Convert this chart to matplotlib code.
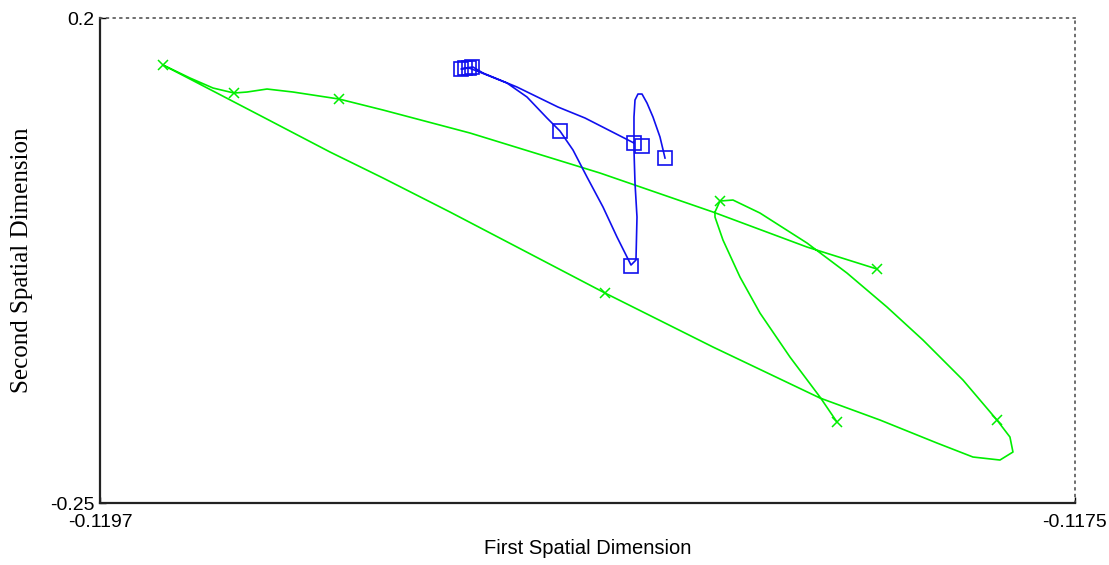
import matplotlib
matplotlib.use("Agg")
import matplotlib.pyplot as plt

# Trajectory of the first source (green): traced path and sampled positions
green_x = [-0.1179468, -0.1181047, -0.1183168, -0.1185718, -0.1188651, -0.1190614,
           -0.1191607, -0.1192645, -0.1193232, -0.1193683, -0.1193976, -0.1194450,
           -0.1194969, -0.1195578, -0.1194450, -0.1193322, -0.1191810, -0.1190614,
           -0.1189103, -0.1187591, -0.1185605, -0.1183168, -0.1180754, -0.1179400,
           -0.1178114, -0.1177302, -0.1176692, -0.1176399, -0.1176467, -0.1176760,
           -0.1177527, -0.1178430, -0.1179242, -0.1180145, -0.1181047, -0.1182108,
           -0.1182717, -0.1183010, -0.1183123, -0.1183123, -0.1182943, -0.1182559,
           -0.1182108, -0.1181431, -0.1180754, -0.1180370]
green_y = [-0.03289, -0.01248, 0.02000, 0.05618, 0.09330, 0.11464,
           0.12484, 0.13134, 0.13412, 0.13134, 0.13041, 0.13505,
           0.14433, 0.15639, 0.13227, 0.10814, 0.07567, 0.05155,
           0.02000, -0.01248, -0.05516, -0.10526, -0.15258, -0.17299,
           -0.19433, -0.20732, -0.21011, -0.20268, -0.18876, -0.17299,
           -0.13588, -0.09876, -0.06815, -0.03660, -0.00876, 0.01907,
           0.03113, 0.03021, 0.02000, 0.01536, -0.00598, -0.04031,
           -0.07371, -0.11454, -0.15165, -0.17485]
green_mx = [-0.1179468, -0.1191607, -0.1193976, -0.1195578,
            -0.1185605, -0.1176760, -0.1183010, -0.1180370]
green_my = [-0.03289, 0.12484, 0.13041, 0.15639,
            -0.05516, -0.17299, 0.03021, -0.17485]

# Trajectory of the second source (blue)
blue_x = [-0.1184951, -0.1186056, -0.1186666, -0.1187591, -0.1188358, -0.1188584,
          -0.1188764, -0.1188854, -0.1188674, -0.1188493, -0.1187817, -0.1187365,
          -0.1186914, -0.1186621, -0.1186327, -0.1186011, -0.1185650, -0.1185334,
          -0.1185018, -0.1184906, -0.1184883, -0.1184928, -0.1184951, -0.1184951,
          -0.1184928, -0.1184861, -0.1184770, -0.1184657, -0.1184522, -0.1184364,
          -0.1184251]
blue_y = [0.08402, 0.10722, 0.11742, 0.13598, 0.14897, 0.15454,
          0.15361, 0.15268, 0.15361, 0.15082, 0.13969, 0.12670,
          0.10722, 0.09515, 0.07753, 0.05247, 0.02464, -0.00320,
          -0.02918, -0.02454, 0.01536, 0.04691, 0.07753, 0.10814,
          0.12392, 0.12948, 0.12948, 0.12113, 0.10814, 0.08959,
          0.07010]
blue_mx = [-0.1184951, -0.1188854, -0.1188764, -0.1188674, -0.1188606,
           -0.1186621, -0.1185018, -0.1184770, -0.1184251]
blue_my = [0.08402, 0.15268, 0.15361, 0.15361, 0.15454,
           0.09515, -0.03010, 0.08124, 0.07010]

x_ticks = [-0.1197, -0.1175]
y_ticks = [-0.25, 0.2]

plt.rcParams["font.family"] = "Liberation Sans"

fig = plt.figure(figsize=(11.09, 5.65), dpi=100)
ax = fig.add_axes([0.0902, 0.1097, 0.8791, 0.8584])

ax.plot(green_x, green_y, color="#00ee00", lw=1.2)
ax.plot(green_mx, green_my, ls="none", marker="x", ms=7, mew=1.1, color="#00ee00")
ax.plot(blue_x, blue_y, color="#1010ee", lw=1.2)
ax.plot(blue_mx, blue_my, ls="none", marker="s", ms=10, mew=1.2,
        mfc="none", mec="#1010ee")

ax.set_xlim(x_ticks[0], x_ticks[1])
ax.set_ylim(y_ticks[0], y_ticks[1])
ax.set_xticks(x_ticks)
ax.set_xticklabels(["-0.1197", "-0.1175"])
ax.set_yticks(y_ticks)
ax.set_yticklabels(["-0.25", "0.2"])
ax.tick_params(direction="in", length=4, width=1, labelsize=14)
ax.tick_params(axis="x", pad=8)
ax.tick_params(axis="y", pad=4)
for lab in ax.get_yticklabels():
    lab.set_verticalalignment("center_baseline")

for side in ("top", "right"):
    ax.spines[side].set_linestyle((0, (1, 3)))
    ax.spines[side].set_color("#555555")
    ax.spines[side].set_linewidth(1.2)
for side in ("left", "bottom"):
    ax.spines[side].set_color("#222222")
    ax.spines[side].set_linewidth(1.6)

ax.set_xlabel("First Spatial Dimension", fontsize=14.5, labelpad=6)
ax.set_ylabel("Second Spatial Dimension", fontsize=18, labelpad=12,
              family="Liberation Serif")

fig.savefig("out.png", dpi=100)
